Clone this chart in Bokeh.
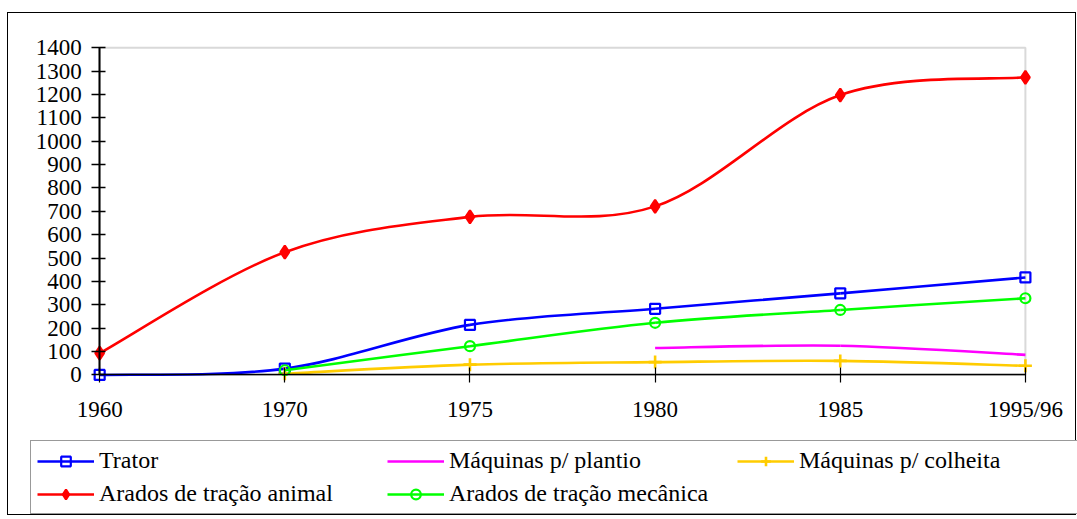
import math
from bokeh.plotting import figure
from bokeh.models import (FixedTicker, Legend, LegendItem, ColumnDataSource, Range1d,
                          BoxAnnotation)
from bokeh.embed import file_html
from bokeh.resources import INLINE

categories = ["1960", "1970", "1975", "1980", "1985", "1995/96"]
trator = [0, 27, 214, 283, 349, 417]
plantio = [None, None, None, 115, 125, 86]
colheita = [None, 5, 44, 55, 60, 39]
animal = [93, 525, 676, 721, 1197, 1273]
mecanica = [None, 20, 123, 223, 278, 328]
y_ticks = list(range(0, 1401, 100))
Y_MAX = 1400

FONT = "'Liberation Serif', 'Times New Roman', serif"

# ---- layout (pixels) ----
W, H = 1069, 503            # figure size incl. 1px border
IW, IH = W - 2, H - 2       # inner canvas
PLOT_L, PLOT_R = 91, 1015   # inner-canvas x of first / last category
PLOT_T, PLOT_B = 34, 360    # inner-canvas y of Y_MAX / 0

n = len(categories) - 1
sx = (PLOT_R - PLOT_L) / n
sy = (PLOT_B - PLOT_T) / Y_MAX
x_range = Range1d(-PLOT_L / sx, n + (IW - PLOT_R) / sx)
y_range = Range1d(-(IH - PLOT_B) / sy, Y_MAX + PLOT_T / sy)


def bezier_segments(ys):
    pts = [(i, v) for i, v in enumerate(ys) if v is not None]
    d = dict(x0=[], y0=[], x1=[], y1=[], cx0=[], cy0=[], cx1=[], cy1=[])
    m = len(pts)
    for k in range(m - 1):
        p0 = pts[k - 1] if k > 0 else pts[k]
        p1 = pts[k]
        p2 = pts[k + 1]
        p3 = pts[k + 2] if k + 2 < m else pts[k + 1]
        d["x0"].append(p1[0]); d["y0"].append(p1[1])
        d["x1"].append(p2[0]); d["y1"].append(p2[1])
        d["cx0"].append(p1[0] + (p2[0] - p0[0]) / 6.0)
        d["cy0"].append(p1[1] + (p2[1] - p0[1]) / 6.0)
        d["cx1"].append(p2[0] - (p3[0] - p1[0]) / 6.0)
        d["cy1"].append(p2[1] - (p3[1] - p1[1]) / 6.0)
    return ColumnDataSource(d)


def points(ys):
    xs = [i for i, v in enumerate(ys) if v is not None]
    vs = [v for v in ys if v is not None]
    return ColumnDataSource(dict(x=xs, y=vs))


p = figure(width=W, height=H, output_backend="svg", toolbar_location=None,
           x_range=x_range, y_range=y_range,
           min_border_left=0, min_border_right=0, min_border_top=0, min_border_bottom=0)
p.margin = (12, 0, 0, 7)
p.styles = {"border": "1px solid black", "box-sizing": "border-box"}
p.xgrid.visible = False
p.ygrid.visible = False
p.outline_line_color = None
p.background_fill_color = "white"
p.border_fill_color = "white"

# plot area frame (grey top / right)
p.add_layout(BoxAnnotation(left=0, right=n, bottom=0, top=Y_MAX, fill_alpha=0,
                           line_color="#808080", line_width=2, level="underlay"))

LW = 2.6
series = [
    ("Trator", trator, "#0000FF", "square", 10, False),
    ("Máquinas p/ plantio", plantio, "#FF00FF", None, 0, False),
    ("Máquinas p/ colheita", colheita, "#FFCC00", "cross", 13, False),
    ("Arados de tração animal", animal, "#FF0000", "diamond", 13, True),
    ("Arados de tração mecânica", mecanica, "#00FF00", "circle", 10, False),
]

items = []
for name, ys, color, marker, size, filled in series:
    p.bezier(x0="x0", y0="y0", x1="x1", y1="y1", cx0="cx0", cy0="cy0", cx1="cx1", cy1="cy1",
             source=bezier_segments(ys), line_color=color, line_width=LW)
    rends = [p.line(x=[math.nan], y=[math.nan], line_color=color, line_width=LW)]
    if marker:
        rends.append(p.scatter(x="x", y="y", source=points(ys), marker=marker, size=size,
                               line_color=color, line_width=2.6 if marker == "cross" else 2.2,
                               fill_color=color if filled else None))
    items.append(LegendItem(label=name, renderers=rends))

# axes
for ax in (p.xaxis[0], p.yaxis[0]):
    ax.axis_line_color = "black"
    ax.major_tick_line_color = "black"
    ax.major_label_text_font = FONT
    ax.major_label_text_font_size = "23px"
    ax.major_label_text_color = "black"
    ax.minor_tick_line_color = None

p.yaxis.fixed_location = 0
p.yaxis.bounds = (0, Y_MAX)
p.yaxis.ticker = FixedTicker(ticks=y_ticks)
p.yaxis.axis_line_width = 2
p.yaxis.major_tick_line_width = 1.5
p.yaxis.major_tick_out = 8
p.yaxis.major_tick_in = 6
p.yaxis.major_label_standoff = 10

p.xaxis.fixed_location = 0
p.xaxis.bounds = (0, n)
p.xaxis.ticker = FixedTicker(ticks=list(range(len(categories))))
p.xaxis.major_label_overrides = {i: c for i, c in enumerate(categories)}
p.xaxis.axis_line_width = 1.5
p.xaxis.major_tick_line_width = 1.2
p.xaxis.major_tick_out = 8
p.xaxis.major_tick_in = 7
p.xaxis.major_label_standoff = 14

legend = Legend(items=items, location=(22, 2), orientation="horizontal", ncols=3,
                glyph_width=57, glyph_height=24, label_standoff=5, label_width=282,
                spacing=6, padding=6, margin=0,
                label_text_font=FONT, label_text_font_size="24px", label_text_color="black",
                border_line_color="#333333", border_line_width=1.5,
                background_fill_color="white", background_fill_alpha=1.0)
p.add_layout(legend, "center")

open("out.html", "w").write(file_html(p, INLINE))
